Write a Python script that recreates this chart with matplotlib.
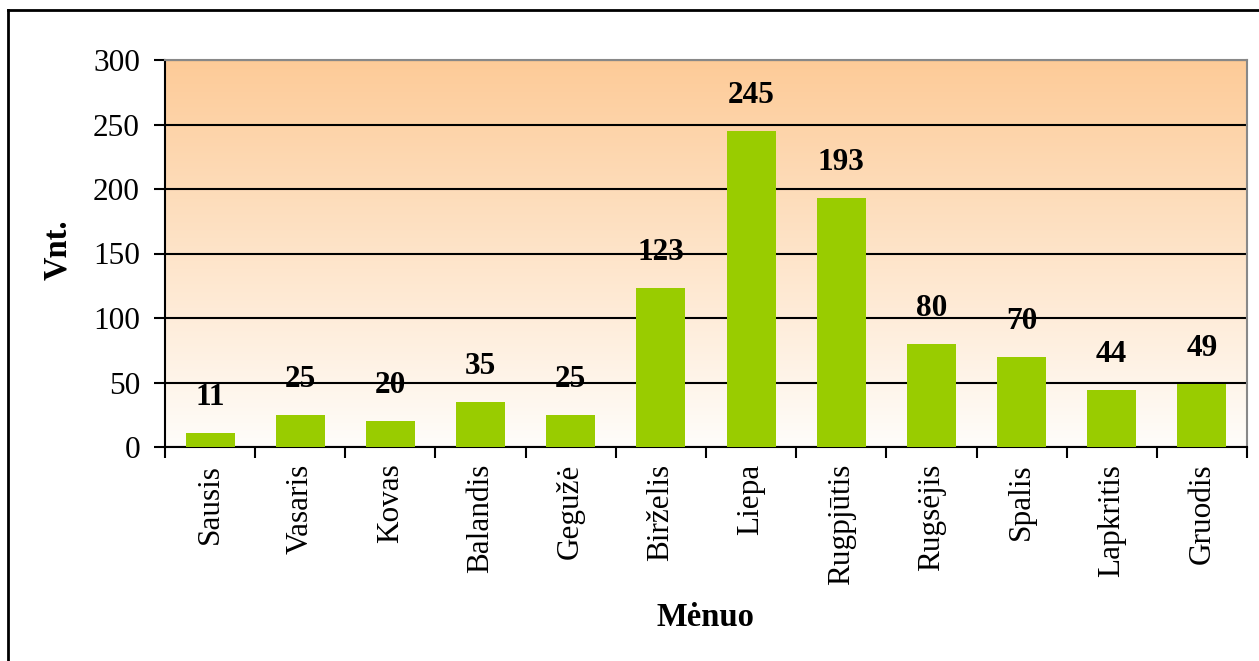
import matplotlib.pyplot as plt
import numpy as np
from matplotlib.lines import Line2D

plt.rcParams['font.family'] = ['Liberation Serif', 'DejaVu Serif']

# data
menesiai = ['Sausis', 'Vasaris', 'Kovas', 'Balandis', 'Gegužė', 'Birželis',
            'Liepa', 'Rugpjūtis', 'Rugsėjis', 'Spalis', 'Lapkritis', 'Gruodis']
kiekis = [11, 25, 20, 35, 25, 123, 245, 193, 80, 70, 44, 49]

W, H = 1259, 661
fig = plt.figure(figsize=(W / 100, H / 100), dpi=100)
ax = fig.add_axes([165 / W, 1 - 447 / H, (1247 - 165) / W, (447 - 60) / H])

# gradient background (orange top -> white bottom)
grad = np.linspace(0, 1, 256).reshape(-1, 1)
top = np.array([253, 203, 152]) / 255
bot = np.array([255, 253, 250]) / 255
img = top * (1 - grad[..., None]) + bot * grad[..., None]
ax.imshow(img, extent=[-0.5, len(menesiai) - 0.5, 0, 300], aspect='auto',
          origin='upper', zorder=0)

x = np.arange(len(menesiai))
bars = ax.bar(x, kiekis, width=0.545, color='#99cc00', zorder=3)

for xi, v in zip(x, kiekis):
    ax.annotate(str(v), (xi, v), xytext=(0, 15), textcoords='offset points',
                ha='center', va='bottom', fontsize=22.5, fontweight='bold', zorder=4)

ax.set_xlim(-0.5, len(menesiai) - 0.5)
ax.set_ylim(0, 300)
ax.set_yticks(range(0, 301, 50))
ax.yaxis.grid(True, color='black', linewidth=1.5, zorder=1)
ax.set_axisbelow(True)

ax.set_xticks(np.arange(-0.5, len(menesiai), 1))
ax.set_xticklabels([])
ax.set_xticks(x, minor=True)
ax.set_xticklabels(menesiai, minor=True, rotation=90, fontsize=22.5)
ax.tick_params(axis='x', which='minor', length=0, pad=12)
ax.tick_params(axis='x', which='major', length=8, width=1.5, direction='out')
ax.tick_params(axis='y', length=8, width=1.5, labelsize=22.5, pad=10)

for s in ['left', 'bottom']:
    ax.spines[s].set_linewidth(1.5)
    ax.spines[s].set_color('black')
for s in ['top', 'right']:
    ax.spines[s].set_linewidth(1.5)
    ax.spines[s].set_color('#888888')

fig.text(58 / W, 1 - 250 / H, 'Vnt.', rotation=90, ha='center', va='center',
         fontsize=23.5, fontweight='bold')
fig.text(705 / W, 1 - 617 / H, 'Mėnuo', ha='center', va='center',
         fontsize=23.5, fontweight='bold')

# outer frame
fig.add_artist(Line2D([8 / W, 8 / W], [0, 1 - 10 / H], color='black', linewidth=2))
fig.add_artist(Line2D([8 / W, 1], [1 - 10 / H, 1 - 10 / H], color='black', linewidth=2))

fig.savefig('out.png', dpi=100)
